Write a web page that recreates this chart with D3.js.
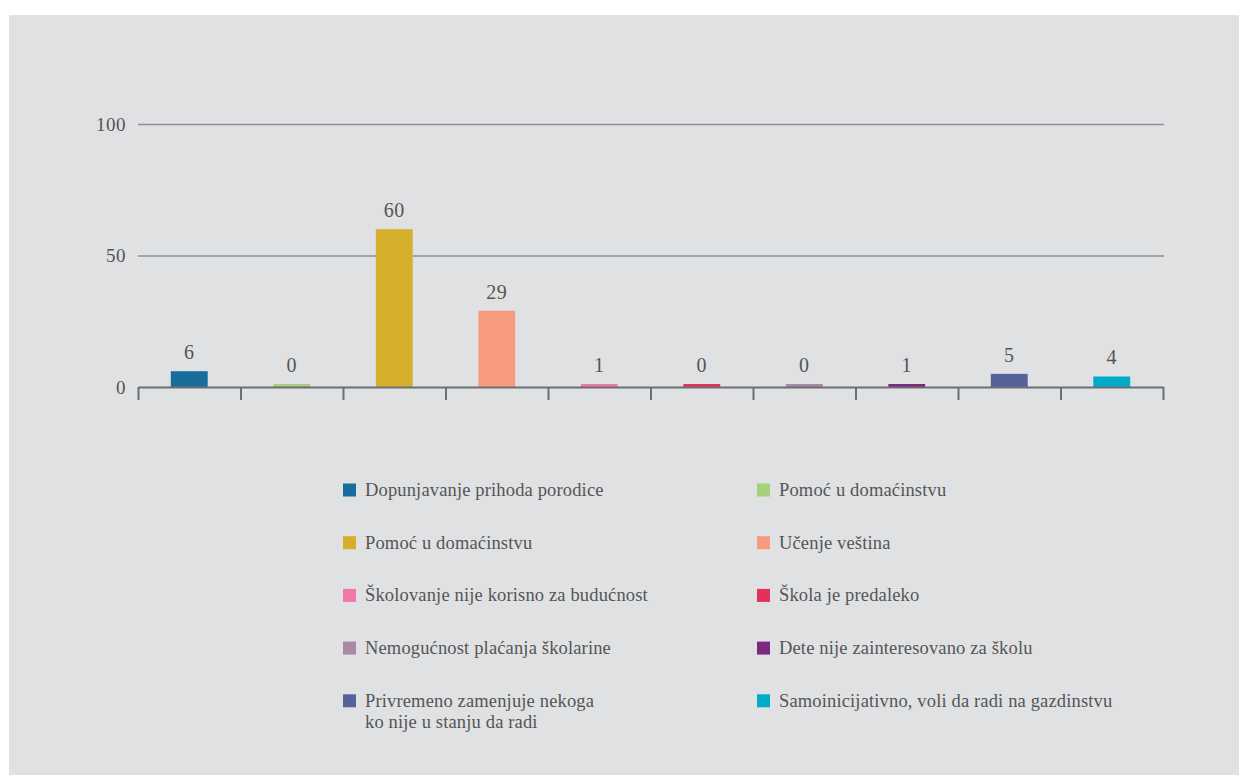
<!DOCTYPE html>
<html>
<head>
<meta charset="utf-8">
<script src="https://cdn.jsdelivr.net/npm/d3@7/dist/d3.min.js"></script>
<style>
  html, body { margin: 0; padding: 0; background: #ffffff; }
  svg { display: block; }
  text { font-family: "Liberation Serif", "DejaVu Serif", serif; }
</style>
</head>
<body>
<svg id="chart" width="1239" height="775"></svg>
<script>
const categories = [
  "Dopunjavanje prihoda porodice",
  "Pomoć u domaćinstvu",
  "Pomoć u domaćinstvu",
  "Učenje veština",
  "Školovanje nije korisno za budućnost",
  "Škola je predaleko",
  "Nemogućnost plaćanja školarine",
  "Dete nije zainteresovano za školu",
  "Privremeno zamenjuje nekoga\nko nije u stanju da radi",
  "Samoinicijativno, voli da radi na gazdinstvu"
];
const values = [6, 0, 60, 29, 1, 0, 0, 1, 5, 4];
const colors = ["#176d9c", "#a8cf7a", "#d5ae2c", "#f79b7e", "#ed78aa",
                "#e5305a", "#a988a8", "#7b2a7e", "#56629b", "#00acc8"];
const yTicks = [0, 50, 100];

const svg = d3.select("#chart");

// background panel
svg.append("rect").attr("x", 9).attr("y", 15).attr("width", 1239 - 9).attr("height", 775 - 15)
  .attr("fill", "#e0e1e3");

const left = 138, right = 1163, y0 = 387, yTop = 124;
const ids = d3.range(categories.length);
const x = d3.scaleBand().domain(ids).range([left, right]).paddingInner(0.64).paddingOuter(0.32);
const xb = d3.scaleLinear().domain([0, categories.length]).range([left, right]);
const y = d3.scaleLinear().domain([0, 100]).range([y0, yTop]);

// grid + y labels
const gy = svg.append("g").attr("transform", `translate(${left},0)`)
  .call(d3.axisLeft(y).tickValues(yTicks).tickSize(-(right - left + 1)).tickPadding(12).tickFormat(d3.format("d")));
gy.select(".domain").remove();
gy.selectAll(".tick line").attr("stroke", "#8d8f93").attr("stroke-width", 1.5)
  .filter(d => d === 0).remove();
gy.selectAll(".tick text").attr("fill", "#555").attr("font-size", 19)
  .attr("font-family", "Liberation Serif, serif").attr("letter-spacing", 0.5);

// bars
const minH = 3;
svg.append("g").selectAll("rect").data(values).join("rect")
  .attr("x", (d, i) => x(i))
  .attr("width", x.bandwidth())
  .attr("y", d => y0 - Math.max(y0 - y(d), minH))
  .attr("height", d => Math.max(y0 - y(d), minH))
  .attr("fill", (d, i) => colors[i]);

// value labels
svg.append("g").selectAll("text").data(values).join("text")
  .attr("x", (d, i) => x(i) + x.bandwidth() / 2)
  .attr("y", d => y0 - Math.max(y0 - y(d), minH) - 12)
  .attr("text-anchor", "middle")
  .attr("fill", "#555").attr("font-size", 20).attr("letter-spacing", 0.5)
  .text(d => d);

// x axis with boundary ticks
const gx = svg.append("g").attr("transform", `translate(0,${y0})`)
  .call(d3.axisBottom(xb).ticks(categories.length).tickSize(13).tickSizeOuter(0).tickFormat(""));
gx.select(".domain").attr("stroke", "#6b6e73").attr("stroke-width", 2);
gx.selectAll(".tick line").attr("stroke", "#6b6e73").attr("stroke-width", 2);

// legend
const colX = [343, 757];
const rowY0 = 490, rowStep = 52.7;
const lg = svg.append("g").selectAll("g").data(categories).join("g")
  .attr("transform", (d, i) => `translate(${colX[i % 2]},${rowY0 + Math.floor(i / 2) * rowStep})`);
lg.append("rect").attr("x", 0).attr("y", -6.5).attr("width", 13).attr("height", 13)
  .attr("fill", (d, i) => colors[i]);
lg.append("text").attr("x", 22).attr("y", 6).attr("fill", "#555").attr("font-size", 18.5)
  .attr("letter-spacing", 0.15)
  .selectAll("tspan").data(d => d.split("\n")).join("tspan")
  .attr("x", 22).attr("dy", (d, i) => i === 0 ? 0 : 21)
  .text(d => d);
</script>
</body>
</html>
